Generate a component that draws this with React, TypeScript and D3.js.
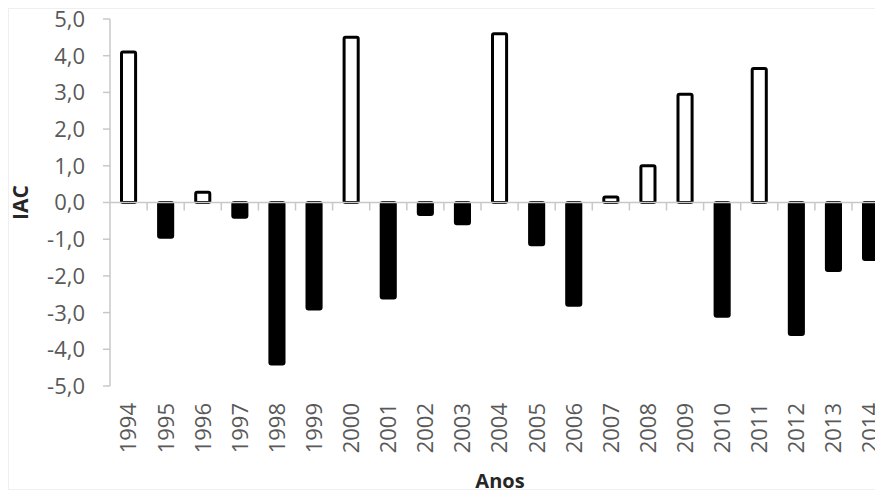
import React, { useEffect, useRef } from 'react';
import * as d3 from 'd3';

const years = ['1994', '1995', '1996', '1997', '1998', '1999', '2000', '2001', '2002', '2003', '2004',
    '2005', '2006', '2007', '2008', '2009', '2010', '2011', '2012', '2013', '2014'];
const iac = [4.1, -0.95, 0.28, -0.4, -4.4, -2.9, 4.5, -2.6, -0.33, -0.58, 4.6,
    -1.15, -2.8, 0.15, 1.0, 2.95, -3.1, 3.65, -3.6, -1.85, -1.55];
const yTicks = [5, 4, 3, 2, 1, 0, -1, -2, -3, -4, -5];

const width = 875;
const height = 494;

const App: React.FC = () => {
    const svgRef = useRef<SVGSVGElement>(null);

    useEffect(() => {
        if (!svgRef.current) return;
        const svg = d3.select(svgRef.current);
        svg.selectAll('*').remove();

        const left = 110;
        const step = 37.1;

        const x = d3.scaleBand<string>()
            .domain(years)
            .range([left, left + step * years.length])
            .paddingInner(0.62)
            .paddingOuter(0.31);

        const y = d3.scaleLinear()
            .domain([-5, 5])
            .range([386, 19]);

        const font = "'Open Sans', 'DejaVu Sans', sans-serif";

        // faint chart area border
        svg.append('rect')
            .attr('x', 8.5)
            .attr('y', 8.5)
            .attr('width', 900)
            .attr('height', 481)
            .attr('fill', 'none')
            .attr('stroke', '#efefef');

        // bars
        svg.append('g')
            .selectAll('rect')
            .data(years)
            .enter()
            .append('rect')
            .attr('x', d => x(d)!)
            .attr('width', x.bandwidth())
            .attr('y', (d, i) => y(Math.max(0, iac[i])))
            .attr('height', (d, i) => Math.abs(y(iac[i]) - y(0)))
            .attr('rx', 1.5)
            .attr('fill', (d, i) => iac[i] >= 0 ? '#fff' : '#000')
            .attr('stroke', '#000')
            .attr('stroke-width', 3);

        // y axis line and ticks
        const axisColor = '#c8c8c8';
        svg.append('line')
            .attr('x1', left).attr('x2', left)
            .attr('y1', y(5)).attr('y2', y(-5))
            .attr('stroke', axisColor)
            .attr('stroke-width', 1.5);

        svg.append('g')
            .selectAll('line')
            .data(yTicks)
            .enter()
            .append('line')
            .attr('x1', left - 7).attr('x2', left)
            .attr('y1', d => y(d)).attr('y2', d => y(d))
            .attr('stroke', axisColor)
            .attr('stroke-width', 1.5);

        svg.append('g')
            .selectAll('text')
            .data(yTicks)
            .enter()
            .append('text')
            .attr('x', 85)
            .attr('y', d => y(d))
            .attr('dy', '0.36em')
            .attr('text-anchor', 'end')
            .attr('font-family', font)
            .attr('font-size', 22)
            .attr('fill', '#595959')
            .text(d => d.toFixed(1).replace('.', ','));

        // zero line with category ticks
        svg.append('line')
            .attr('x1', left).attr('x2', width + 10)
            .attr('y1', y(0)).attr('y2', y(0))
            .attr('stroke', axisColor)
            .attr('stroke-width', 1.5);

        svg.append('g')
            .selectAll('line')
            .data(years.slice(1))
            .enter()
            .append('line')
            .attr('x1', d => x(d)! - x.step() * x.paddingOuter())
            .attr('x2', d => x(d)! - x.step() * x.paddingOuter())
            .attr('y1', y(0)).attr('y2', y(0) + 8)
            .attr('stroke', axisColor)
            .attr('stroke-width', 1.5);

        // year labels
        svg.append('g')
            .selectAll('text')
            .data(years)
            .enter()
            .append('text')
            .attr('transform', d => `translate(${x(d)! + x.bandwidth() / 2},403) rotate(-90)`)
            .attr('dy', '0.36em')
            .attr('text-anchor', 'end')
            .attr('font-family', font)
            .attr('font-size', 22)
            .attr('fill', '#595959')
            .text(d => d);

        // axis titles
        svg.append('text')
            .attr('transform', `translate(20,${y(0)}) rotate(-90)`)
            .attr('dy', '0.36em')
            .attr('text-anchor', 'middle')
            .attr('font-family', font)
            .attr('font-size', 21)
            .attr('font-weight', 'bold')
            .attr('fill', '#262626')
            .text('IAC');

        svg.append('text')
            .attr('x', 500)
            .attr('y', 488)
            .attr('text-anchor', 'middle')
            .attr('font-family', font)
            .attr('font-size', 20)
            .attr('font-weight', 'bold')
            .attr('fill', '#262626')
            .text('Anos');
    }, []);

    return (
        <svg
            ref={svgRef}
            width={width}
            height={height}
            style={{ position: 'absolute', left: 0, top: 0, background: '#fff' }}
        />
    );
};

export default App;
